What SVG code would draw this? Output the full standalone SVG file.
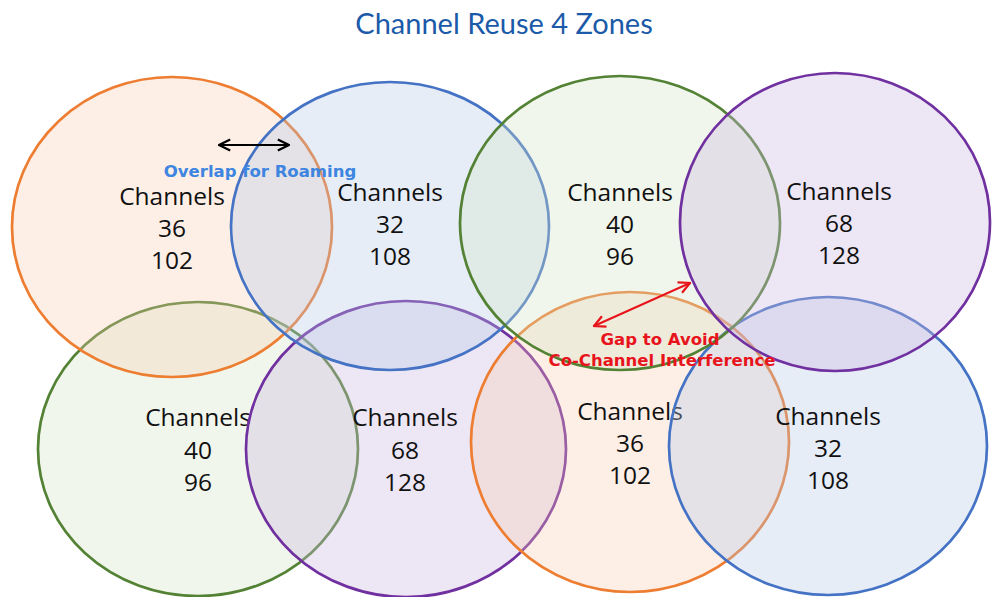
<svg xmlns="http://www.w3.org/2000/svg" width="992" height="597" viewBox="0 0 992 597">
<defs>
<marker id="ar" viewBox="0 0 10 10" refX="9" refY="5" markerWidth="14" markerHeight="14" orient="auto-start-reverse" markerUnits="userSpaceOnUse">
<path d="M1,1 L9,5 L1,9" fill="none" stroke="#e8141c" stroke-width="1.6"/>
</marker>
<marker id="akb" viewBox="0 0 10 10" refX="9" refY="5" markerWidth="14" markerHeight="14" orient="auto-start-reverse" markerUnits="userSpaceOnUse">
<path d="M1,1 L9,5 L1,9" fill="none" stroke="#000" stroke-width="1.6"/>
</marker>
</defs>
<style>
.o{fill:#f8cbad;fill-opacity:0.3;stroke:#ed7d31;stroke-width:2.7}
.b{fill:#b4c7e7;fill-opacity:0.33;stroke:#4472c4;stroke-width:2.7}
.g{fill:#d5e5c5;fill-opacity:0.33;stroke:#548235;stroke-width:2.7}
.p{fill:#ccb8df;fill-opacity:0.35;stroke:#7030a0;stroke-width:2.7}
.t{font-family:"Open Sans","Liberation Sans",sans-serif;font-size:24.5px;fill:#111;text-anchor:middle}
.title{font-family:Lato,"Open Sans",sans-serif;font-size:29px;fill:#1a5aa8;text-anchor:middle}
.lb{font-family:"DejaVu Sans",Verdana,sans-serif;font-weight:bold;font-size:16.5px;text-anchor:middle}
</style>
<rect width="992" height="597" fill="#fff"/>
<text class="title" x="504" y="34">Channel Reuse 4 Zones</text>

<g id="zone-bl">
<ellipse class="g" cx="198" cy="449" rx="160" ry="147"/>
<text class="t" x="198" y="426">Channels</text><text class="t" x="198" y="459">40</text><text class="t" x="198" y="491">96</text>
</g>
<g id="zone-bm">
<ellipse class="p" cx="406" cy="449" rx="160" ry="148"/>
<text class="t" x="405" y="426">Channels</text><text class="t" x="405" y="459">68</text><text class="t" x="405" y="491">128</text>
</g>
<g id="zone-br1">
<ellipse class="o" cx="630" cy="442" rx="159" ry="150"/>
<text class="t" x="630" y="420">Channels</text><text class="t" x="630" y="452">36</text><text class="t" x="630" y="484">102</text>
</g>
<g id="zone-br2">
<ellipse class="b" cx="828" cy="446" rx="159" ry="149"/>
<text class="t" x="828" y="425">Channels</text><text class="t" x="828" y="457">32</text><text class="t" x="828" y="489">108</text>
</g>
<g id="zone-tl">
<ellipse class="o" cx="172" cy="227" rx="160" ry="150"/>
<text class="t" x="172" y="205">Channels</text><text class="t" x="172" y="237">36</text><text class="t" x="172" y="269">102</text>
</g>
<g id="zone-tm1">
<ellipse class="b" cx="390" cy="226" rx="159" ry="144"/>
<text class="t" x="390" y="201">Channels</text><text class="t" x="390" y="233">32</text><text class="t" x="390" y="265">108</text>
</g>
<g id="zone-tm2">
<ellipse class="g" cx="620" cy="223" rx="160" ry="147"/>
<text class="t" x="620" y="201">Channels</text><text class="t" x="620" y="233">40</text><text class="t" x="620" y="265">96</text>
</g>
<g id="zone-tr">
<ellipse class="p" cx="835" cy="222" rx="155" ry="149"/>
<text class="t" x="839" y="200">Channels</text><text class="t" x="839" y="232">68</text><text class="t" x="839" y="264">128</text>
</g>

<g id="connectors">
<line x1="219" y1="145" x2="289" y2="145" stroke="#000" stroke-width="2" marker-start="url(#akb)" marker-end="url(#akb)"/>
<line x1="594" y1="326" x2="690" y2="283" stroke="#e8141c" stroke-width="2" marker-start="url(#ar)" marker-end="url(#ar)"/>
</g>
<text class="lb" x="260" y="177" fill="#3d85e0">Overlap for Roaming</text>
<text class="lb" x="660" y="345" fill="#e8141c">Gap to Avoid</text>
<text class="lb" x="662" y="366" fill="#e8141c">Co-Channel Interference</text>
</svg>
